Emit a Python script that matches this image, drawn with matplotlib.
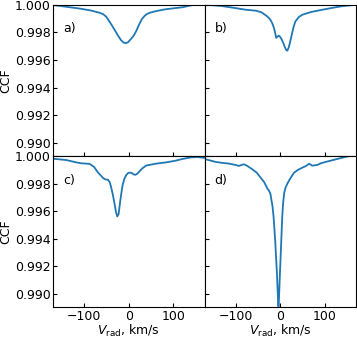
import matplotlib
matplotlib.use("Agg")
import matplotlib.pyplot as plt

# panel a
v_a = [-170, -140, -110, -85, -66, -58, -51, -44, -38, -32, -25, -18, -12, -7,
       -2, 4, 10, 16, 22, 29, 35, 41, 47, 60, 80, 100, 121, 143, 170]
ccf_a = [0.99998, 0.99985, 0.99972, 0.99958, 0.99942, 0.99932, 0.99914, 0.99880,
         0.99850, 0.99818, 0.99780, 0.99745, 0.99726, 0.99722, 0.99728, 0.99750,
         0.99772, 0.99806, 0.99850, 0.99895, 0.99918, 0.99934, 0.99942, 0.99953,
         0.99966, 0.99974, 0.99982, 0.99998, 1.00000]

# panel b
v_b = [-170, -150, -130, -105, -78, -55, -42, -29, -23, -18, -14, -11, -9, -6,
       -3, 0, 3, 7, 11, 14, 16, 19, 22, 25, 30, 34, 42, 50, 70, 95, 118, 140, 170]
ccf_b = [1.00000, 0.99996, 0.99990, 0.99978, 0.99964, 0.99957, 0.99945, 0.99915,
         0.99895, 0.99867, 0.99830, 0.99790, 0.99760, 0.99770, 0.99776, 0.99766,
         0.99750, 0.99722, 0.99688, 0.99670, 0.99668, 0.99690, 0.99728, 0.99770,
         0.99840, 0.99879, 0.99912, 0.99928, 0.99948, 0.99964, 0.99978, 0.99990,
         1.00000]

# panel c
v_c = [-170, -141, -120, -107, -88, -78, -70, -62, -57, -52, -47, -43, -40, -36,
       -32, -29, -26, -23, -20, -17, -14, -10, -6, -2, 2, 7, 11, 15, 19, 24, 30,
       39, 60, 84, 105, 121, 140, 155, 170]
ccf_c = [0.99980, 0.99971, 0.99955, 0.99947, 0.99943, 0.99920, 0.99883, 0.99855,
         0.99838, 0.99830, 0.99828, 0.99810, 0.99776, 0.99720, 0.99650, 0.99595,
         0.99562, 0.99580, 0.99660, 0.99729, 0.99790, 0.99836, 0.99862, 0.99876,
         0.99880, 0.99876, 0.99866, 0.99864, 0.99872, 0.99890, 0.99910, 0.99931,
         0.99944, 0.99954, 0.99966, 0.99979, 0.99990, 0.99992, 0.99986]

# panel d
v_d = [-170, -158, -145, -130, -115, -100, -93, -87, -82, -75, -63, -53, -44,
       -36, -29, -25, -22, -20, -17.5, -15, -11.3, -7.4, -5, -4, -3, -0.7, 2.3,
       4.5, 6.5, 9, 12, 16, 23, 31, 40, 50, 58, 65, 72, 83, 92, 102, 112, 125,
       140, 155, 170]
ccf_d = [0.99978, 0.99968, 0.99957, 0.99950, 0.99945, 0.99935, 0.99928, 0.99935,
         0.99940, 0.99930, 0.99904, 0.99880, 0.99843, 0.99810, 0.99765, 0.99748,
         0.99725, 0.99685, 0.99640, 0.99560, 0.99386, 0.99148, 0.98960, 0.98910,
         0.98960, 0.99148, 0.99386, 0.99560, 0.99660, 0.99735, 0.99772, 0.99800,
         0.99840, 0.99879, 0.99900, 0.99916, 0.99928, 0.99944, 0.99930, 0.99935,
         0.99948, 0.99957, 0.99965, 0.99976, 0.99988, 1.00000, 1.00000]

panel_labels = ["a)", "b)", "c)", "d)"]
x_ticks = [-100, 0, 100]
y_ticks = [0.990, 0.992, 0.994, 0.996, 0.998, 1.000]

series = [(v_a, ccf_a), (v_b, ccf_b), (v_c, ccf_c), (v_d, ccf_d)]

fig, axes = plt.subplots(2, 2, sharex=True, sharey=True, figsize=(3.57, 3.38), dpi=100)
fig.subplots_adjust(left=0.149, right=0.997, top=0.986, bottom=0.091,
                    hspace=0, wspace=0)

for ax, (v, ccf), lab in zip(axes.flat, series, panel_labels):
    ax.plot(v, ccf, color="#1f77b4", lw=1.3)
    ax.text(0.065, 0.84, lab, transform=ax.transAxes, fontsize=9, va="center")
    ax.tick_params(direction="in", labelsize=9, length=3, pad=2)

ax = axes[0, 0]
ax.set_xlim(-170, 170)
ax.set_ylim(0.98905, 1.0)
ax.set_xticks(x_ticks)
ax.set_yticks(y_ticks)
ax.yaxis.set_major_formatter(plt.FormatStrFormatter("%.3f"))

for a in axes[:, 0]:
    a.set_ylabel("CCF", fontsize=9, labelpad=1.5)
for a in axes[1, :]:
    a.set_xlabel(r"$V_{\rm rad}$, km/s", fontsize=9, labelpad=0)

fig.savefig("out.png", dpi=100)
